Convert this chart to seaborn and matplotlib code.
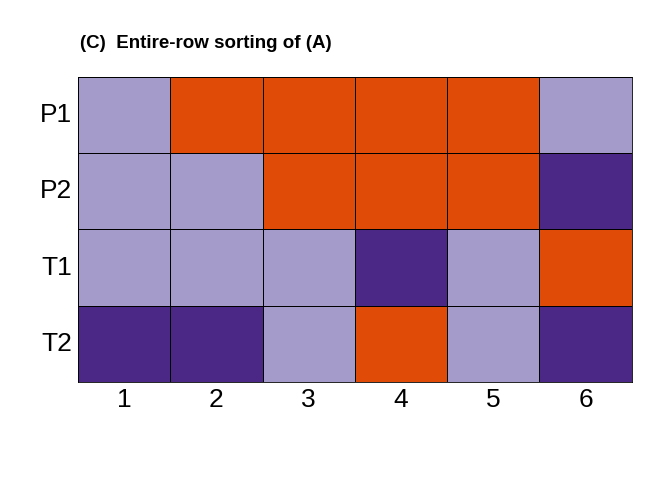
import numpy as np
import pandas as pd
import matplotlib
matplotlib.use("Agg")
import matplotlib.pyplot as plt
import seaborn as sns
from matplotlib.colors import ListedColormap

## Data: 0 = light purple, 1 = orange, 2 = dark purple
rows = ["P1", "P2", "T1", "T2"]
cols = ["1", "2", "3", "4", "5", "6"]
p1 = [0, 1, 1, 1, 1, 0]
p2 = [0, 0, 1, 1, 1, 2]
t1 = [0, 0, 0, 2, 0, 1]
t2 = [2, 2, 0, 1, 0, 2]

df = pd.DataFrame([p1, p2, t1, t2], index=rows, columns=cols)

sns.set_style("white")
plt.rcParams['font.family'] = ['Liberation Sans', 'DejaVu Sans']
plt.rcParams['text.color'] = 'black'
plt.rcParams['xtick.color'] = 'black'
plt.rcParams['ytick.color'] = 'black'

cmap = ListedColormap(["#a49bca", "#e04b07", "#4c2886"])

fig = plt.figure(figsize=(6.72, 4.8), dpi=100)
ax = fig.add_axes([0.116, 0.204, 0.824, 0.636])
sns.heatmap(df, cmap=cmap, vmin=-0.5, vmax=2.5, cbar=False,
            linewidths=0.6, linecolor="black", ax=ax)
for s in ax.spines.values():
    s.set_visible(True)
    s.set_color("black")
    s.set_linewidth(0.6)
ax.tick_params(axis="both", length=0, labelsize=19, pad=4)
ax.set_yticklabels(rows, rotation=0)
ax.set_xticklabels(cols, rotation=0)
ax.set_xlabel("")
ax.set_ylabel("")
fig.text(0.119, 0.91, "(C)  Entire-row sorting of (A)", fontsize=13.5,
         fontweight="bold", ha="left", va="center")

plt.savefig("out.png", dpi=100)
